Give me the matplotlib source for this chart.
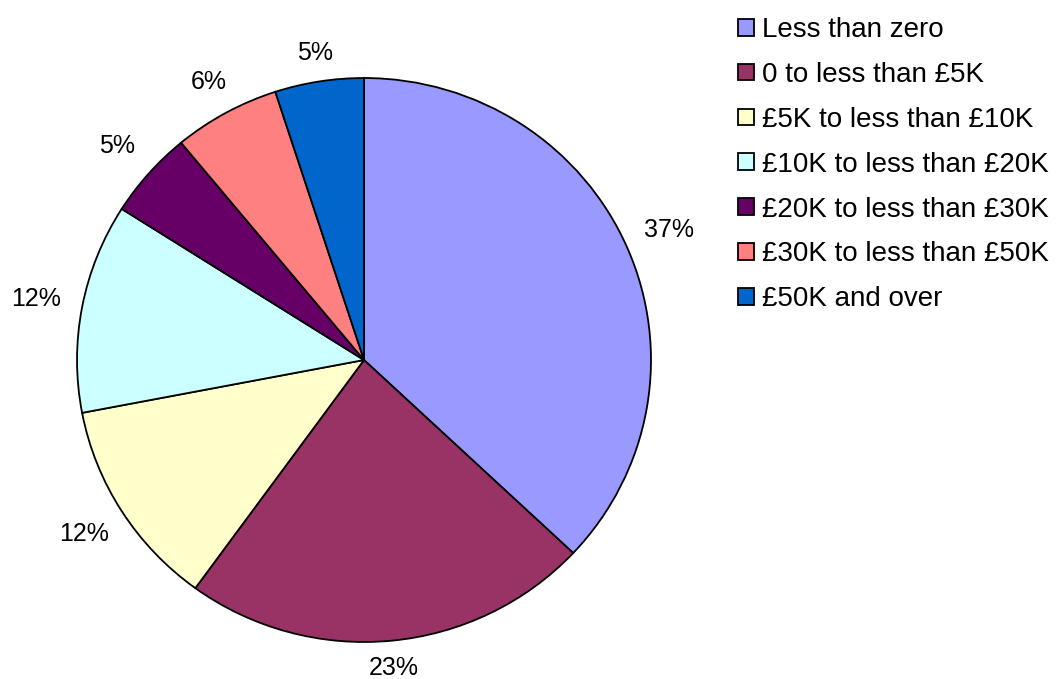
import numpy as np
import matplotlib
matplotlib.use('Agg')
import matplotlib.pyplot as plt

plt.rcParams['font.family'] = ['Liberation Sans', 'DejaVu Sans']

# chart data
categories = ['Less than zero', '0 to less than £5K', '£5K to less than £10K',
              '£10K to less than £20K', '£20K to less than £30K',
              '£30K to less than £50K', '£50K and over']
shares = [37, 23, 12, 12, 5, 6, 5]
colours = ['#9999FF', '#993366', '#FFFFCC', '#CCFFFF', '#660066', '#FF8080', '#0066CC']

fig = plt.figure(figsize=(10.58, 6.79), dpi=100)
ax = fig.add_axes([0.0728, 0.0545, 0.5425, 0.8306])

wedges, texts, autotexts = ax.pie(shares, colors=colours, startangle=90, counterclock=False,
                                  autopct='%1.0f%%', pctdistance=1.14,
                                  wedgeprops=dict(edgecolor='black', linewidth=1.3),
                                  textprops=dict(fontsize=18, color='black'))
ax.set_aspect('auto')
ax.set_xlim(-1, 1)
ax.set_ylim(-1, 1)

# push the labels out a bit more where the text is wide (like Excel does)
for w, t in zip(wedges, autotexts):
    ang = np.deg2rad((w.theta1 + w.theta2) / 2)
    r = 1.09 + 0.075 * abs(np.cos(ang))
    t.set_position((r * np.cos(ang), r * np.sin(ang)))

fig.legend(wedges, categories, loc='upper left', bbox_to_anchor=(0.698, 0.975),
           frameon=False, fontsize=20, handlelength=0.55, handleheight=0.55,
           handletextpad=0.3, labelspacing=0.68, borderpad=0, borderaxespad=0)

fig.savefig('out.png', dpi=100)
